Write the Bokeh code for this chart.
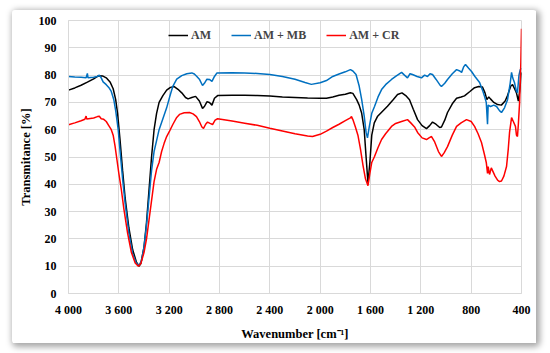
from bokeh.plotting import figure
from bokeh.models import Range1d, FixedTicker, Legend, LegendItem
from bokeh.embed import file_html
from bokeh.resources import INLINE

# ---- data ----
am_wn = [4000, 3950, 3900, 3850, 3800, 3760, 3730, 3700, 3670, 3645, 3625, 3610, 3590, 3570, 3550,
         3520, 3490, 3460, 3440, 3425, 3400, 3380, 3360, 3340, 3320, 3300, 3280, 3250, 3220, 3190,
         3160, 3130, 3100, 3070, 3050, 3020, 2990, 2960, 2935, 2920, 2900, 2880, 2860, 2840, 2815,
         2700, 2600, 2500, 2400, 2300, 2200, 2100, 2000, 1950, 1900, 1850, 1800, 1760, 1740, 1710,
         1690, 1670, 1650, 1635, 1620, 1605, 1590, 1570, 1545, 1510, 1465, 1420, 1385, 1350, 1320,
         1290, 1260, 1226, 1190, 1155, 1130, 1107, 1080, 1050, 1036, 1010, 988, 950, 916, 880,
         853, 810, 773, 740, 710, 690, 675, 660, 645, 620, 590, 560, 530, 511, 485,
         471, 455, 440, 425, 415, 405, 400]
am_val = [74.5, 75.3, 76.3, 77.4, 78.6, 79.8, 79.7, 79.0, 77.5, 75.0, 71.0, 66.0, 56.0, 45.0, 35.0,
          24.0, 16.0, 11.5, 10.0, 11.0, 17.0, 26.0, 38.0, 50.0, 60.0, 66.0, 70.0, 72.5, 74.5, 75.5,
          75.8, 74.8, 73.5, 71.8, 71.3, 71.8, 72.2, 70.5, 67.8, 68.5, 70.2, 70.0, 69.0, 71.5, 72.5,
          72.6, 72.6, 72.5, 72.3, 72.0, 71.8, 71.6, 71.5, 71.5, 72.0, 72.6, 73.0, 73.5, 73.3, 71.0,
          69.0, 66.0, 60.0, 50.0, 40.5, 48.0, 58.0, 62.5, 64.8, 66.5, 68.6, 71.0, 72.9, 73.5, 72.5,
          71.0, 67.5, 63.7, 61.5, 60.4, 61.5, 62.8, 62.0, 60.8, 61.0, 63.5, 66.3, 69.5, 71.5, 72.0,
          72.4, 74.0, 75.4, 75.8, 75.6, 73.5, 71.0, 72.0, 71.2, 70.0, 69.2, 69.0, 70.5, 72.5, 76.0,
          76.5, 75.0, 73.5, 70.5, 74.0, 79.0, 81.0]

mb_wn = [4000, 3950, 3900, 3860, 3850, 3845, 3800, 3770, 3755, 3740, 3725, 3700, 3680, 3660, 3640,
         3625, 3605, 3590, 3570, 3550, 3520, 3490, 3460, 3440, 3420, 3400, 3380, 3360, 3340, 3320,
         3300, 3280, 3250, 3220, 3190, 3170, 3140, 3100, 3060, 3020, 3000, 2980, 2960, 2935, 2920,
         2900, 2880, 2860, 2840, 2820, 2700, 2600, 2500, 2400, 2300, 2200, 2120, 2070, 2000, 1950,
         1900, 1850, 1800, 1760, 1740, 1715, 1690, 1670, 1650, 1635, 1624, 1610, 1590, 1568, 1540,
         1512, 1480, 1433, 1400, 1353, 1330, 1306, 1286, 1266, 1230, 1195, 1170, 1147, 1127, 1107,
         1080, 1050, 1036, 1010, 988, 950, 916, 890, 876, 860, 845, 820, 797, 770, 733,
         710, 694, 680, 670, 665, 646, 620, 598, 575, 559, 535, 511, 490, 479, 470,
         456, 440, 432, 420, 410, 400]
mb_val = [79.5, 79.3, 79.2, 79.0, 80.6, 79.0, 79.2, 79.5, 80.0, 79.0, 77.5, 76.5, 75.5, 74.0, 71.0,
          67.0, 60.0, 52.0, 42.0, 33.0, 22.0, 14.5, 11.0, 10.3, 12.0, 17.0, 25.0, 35.0, 45.0, 52.0,
          56.0, 60.0, 64.0, 68.0, 73.0, 76.0, 78.5, 79.8, 80.5, 80.8, 80.4, 79.5, 78.5, 76.2, 77.0,
          78.5, 78.4, 77.7, 79.5, 80.8, 80.9, 80.8, 80.6, 80.2, 79.5, 78.5, 77.3, 76.6, 77.2, 78.0,
          79.5, 80.4, 81.2, 82.0, 81.5, 80.2, 76.0, 71.0, 65.0, 59.0, 57.0, 61.0, 66.0, 68.5, 72.0,
          74.7, 76.5, 78.4, 79.5, 81.0, 80.0, 79.0, 80.5, 80.2, 79.5, 79.0, 80.0, 79.5, 80.5, 80.2,
          78.5, 76.5, 75.8, 77.0, 78.4, 80.5, 82.0, 81.5, 81.0, 83.0, 83.9, 82.5, 81.3, 79.5, 77.3,
          74.5, 72.2, 70.0, 62.0, 69.0, 68.5, 69.0, 68.5, 67.0, 66.3, 68.0, 71.0, 77.0, 81.0, 79.0,
          77.3, 74.0, 73.6, 80.0, 82.0, 82.5]

cr_wn = [4000, 3950, 3900, 3870, 3860, 3855, 3800, 3770, 3755, 3740, 3720, 3700, 3680, 3660, 3645,
         3630, 3615, 3600, 3580, 3560, 3530, 3500, 3470, 3445, 3425, 3400, 3380, 3360, 3340, 3320,
         3300, 3280, 3260, 3240, 3220, 3197, 3170, 3140, 3118, 3080, 3038, 3010, 2983, 2960, 2940,
         2927, 2910, 2895, 2875, 2855, 2835, 2815, 2700, 2600, 2500, 2400, 2300, 2200, 2100, 2061,
         2000, 1950, 1900, 1850, 1800, 1760, 1751, 1740, 1720, 1700, 1680, 1660, 1640, 1620, 1605,
         1590, 1568, 1540, 1512, 1480, 1433, 1400, 1353, 1306, 1280, 1250, 1226, 1190, 1155, 1135,
         1115, 1090, 1060, 1036, 1015, 988, 950, 916, 880, 837, 800, 773, 745, 718, 695,
         680, 670, 665, 654, 640, 630, 610, 590, 575, 559, 540, 519, 505, 495, 479,
         465, 448, 440, 432, 425, 415, 405, 400]
cr_val = [61.8, 62.5, 63.3, 63.8, 65.0, 63.9, 64.3, 64.8, 64.9, 64.0, 63.8, 63.0, 61.5, 60.0, 58.0,
          54.0, 49.0, 44.0, 38.0, 31.0, 22.0, 15.0, 11.2, 10.0, 11.0, 15.0, 20.0, 27.0, 34.0, 41.0,
          45.5, 48.0, 52.0, 55.0, 57.5, 59.5, 62.0, 64.5, 65.6, 66.2, 66.3, 65.8, 64.8, 63.0, 61.0,
          60.5, 62.0, 62.8, 62.3, 61.9, 63.5, 64.0, 63.2, 62.4, 61.6, 60.5, 59.5, 58.5, 57.7, 57.5,
          58.3, 59.5, 60.8, 62.0, 63.3, 64.3, 64.8, 63.7, 61.0, 58.0, 53.0, 47.0, 42.0, 39.5, 44.0,
          48.0, 50.2, 53.5, 56.4, 58.5, 61.2, 62.3, 63.0, 63.7, 62.5, 61.0, 59.0, 57.0, 56.4, 57.0,
          57.5, 55.5, 52.0, 50.2, 51.5, 53.8, 58.0, 61.2, 62.5, 63.7, 63.0, 61.2, 58.5, 55.3, 51.0,
          48.0, 44.0, 46.5, 43.6, 46.0, 45.0, 43.0, 41.5, 41.0, 41.2, 43.0, 46.5, 53.0, 59.0, 64.4,
          63.0, 61.2, 58.0, 57.5, 62.0, 70.0, 85.0, 97.0]

series_names = ["AM", "AM + MB", "AM + CR"]
x_ticks = [4000, 3600, 3200, 2800, 2400, 2000, 1600, 1200, 800, 400]
x_tick_labels = ["4 000", "3 600", "3 200", "2 800", "2 400", "2 000", "1 600", "1 200", "800", "400"]
y_ticks = [0, 10, 20, 30, 40, 50, 60, 70, 80, 90, 100]

FONT = "Liberation Serif"
GRID = "#d9d9d9"

p = figure(width=524, height=333, output_backend="svg", toolbar_location=None,
           x_range=Range1d(4000, 400), y_range=Range1d(0, 100),
           min_border_left=56, min_border_right=15, min_border_top=10, min_border_bottom=47)
p.margin = (10, 0, 0, 12)
p.styles = {"box-shadow": "2px 2px 6px 2px rgba(0,0,0,0.35)", "border-radius": "3px"}

r_am = p.line(am_wn, am_val, line_color="#000000", line_width=1.5)
r_mb = p.line(mb_wn, mb_val, line_color="#0070c0", line_width=1.5)
r_cr = p.line(cr_wn, cr_val, line_color="#ff0000", line_width=1.5)

# axes
p.xaxis.ticker = FixedTicker(ticks=x_ticks)
p.xaxis.major_label_overrides = {t: l for t, l in zip(x_ticks, x_tick_labels)}
p.yaxis.ticker = FixedTicker(ticks=y_ticks)
for ax in (p.xaxis, p.yaxis):
    ax.major_tick_line_color = None
    ax.minor_tick_line_color = None
    ax.major_tick_out = 0
    ax.major_tick_in = 0
    ax.minor_tick_out = 0
    ax.minor_tick_in = 0
    ax.axis_line_color = GRID
    ax.major_label_text_font = FONT
    ax.major_label_text_font_style = "bold"
    ax.major_label_text_font_size = "12px"
    ax.major_label_text_color = "#000000"
    ax.axis_label_text_font = FONT
    ax.axis_label_text_font_style = "bold"
    ax.axis_label_text_font_size = "12.5px"
    ax.axis_label_text_color = "#000000"
p.xaxis.major_label_standoff = 9
p.yaxis.major_label_standoff = 12
p.xaxis.axis_label = "Wavenumber [cm\u207b\u00b9]"
p.yaxis.axis_label = "Transmitance [%]"
p.xaxis.axis_label_standoff = 7
p.yaxis.axis_label_standoff = 3

p.xgrid.ticker = FixedTicker(ticks=x_ticks)
p.ygrid.ticker = FixedTicker(ticks=y_ticks)
p.grid.grid_line_color = GRID
p.grid.grid_line_width = 1
p.outline_line_color = GRID

legend = Legend(items=[LegendItem(label=series_names[0], renderers=[r_am]),
                       LegendItem(label=series_names[1], renderers=[r_mb]),
                       LegendItem(label=series_names[2], renderers=[r_cr])],
                orientation="horizontal", location=(100, 248),
                background_fill_alpha=0, border_line_color=None,
                label_text_font=FONT, label_text_font_style="bold", label_text_font_size="12px",
                glyph_width=20, label_standoff=3, spacing=20, padding=0, margin=0)
p.add_layout(legend)

open("out.html", "w").write(file_html(p, INLINE))
